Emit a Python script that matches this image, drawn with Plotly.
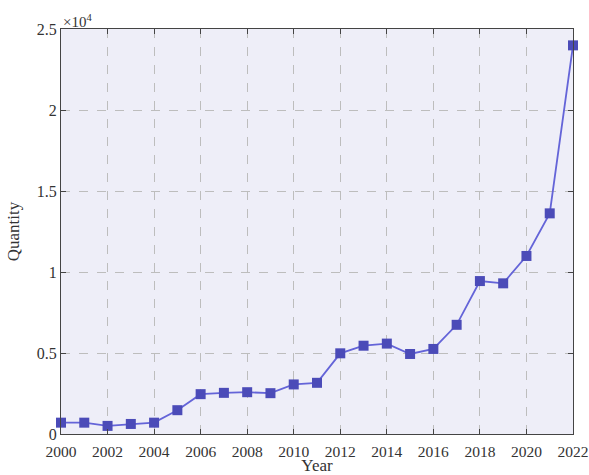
import plotly.graph_objects as go

years = list(range(2000, 2023))
quantity = [700, 700, 500, 620, 700, 1470, 2460, 2540, 2580, 2520, 3060, 3160,
            4980, 5450, 5580, 4940, 5250, 6740, 9440, 9300, 10990, 13620, 23990]
x_ticks = list(range(2000, 2023, 2))
y_tickvals = [0, 5000, 10000, 15000, 20000, 25000]
y_ticktext = ["0", "0.5", "1", "1.5", "2", "2.5"]

font_family = "Liberation Serif, Times New Roman, serif"

fig = go.Figure()
fig.add_trace(go.Scatter(
    x=years, y=quantity, mode="lines+markers",
    line=dict(color="#6464D8", width=1.8),
    marker=dict(symbol="square", size=10, color="#4B4BB8"),
    showlegend=False,
    cliponaxis=False,
))

axis_common = dict(
    showline=True, linecolor="#444444", linewidth=1.2, mirror="ticks",
    ticks="inside", ticklen=5, tickcolor="#444444",
    showgrid=True, gridcolor="#BDBDBD", griddash="dash", gridwidth=1,
    zeroline=False, automargin=False, ticklabeloverflow="allow",
)

fig.update_xaxes(
    range=[2000, 2022], tickvals=x_ticks, ticklabelstandoff=3,
    tickfont=dict(family=font_family, size=15.5, color="#333333"),
    title=dict(text="Year", font=dict(family=font_family, size=17, color="#333333"), standoff=0),
    **axis_common,
)
fig.update_yaxes(
    range=[0, 25000], tickvals=y_tickvals, ticktext=y_ticktext,
    tickfont=dict(family=font_family, size=16, color="#333333"),
    title=dict(text="Quantity", font=dict(family=font_family, size=17, color="#333333"), standoff=12),
    **axis_common,
)

fig.add_annotation(
    x=0, y=1, xref="paper", yref="paper", xanchor="left", yanchor="bottom",
    text="×10<sup>4</sup>", showarrow=False,
    font=dict(family=font_family, size=15, color="#333333"), yshift=-3,
)

fig.update_layout(
    width=589, height=475,
    margin=dict(l=61, r=16, t=29, b=41),
    paper_bgcolor="white", plot_bgcolor="#EEEEF8",
    font=dict(family=font_family),
)

fig.write_html(
    "out.html",
    config={"displayModeBar": False},
    post_script="document.body.style.margin='0';document.body.style.overflow='hidden';",
)
